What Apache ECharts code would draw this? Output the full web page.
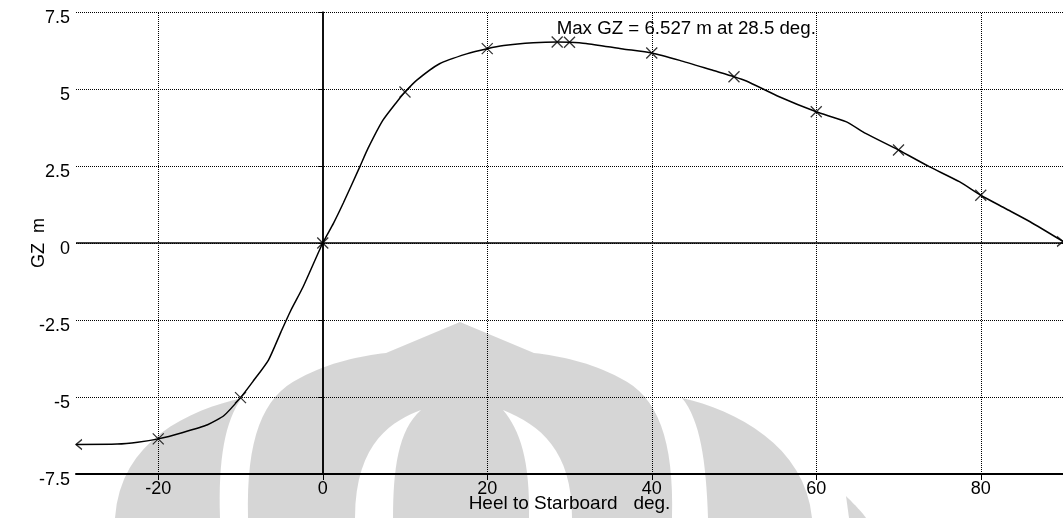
<!DOCTYPE html>
<html>
<head>
<meta charset="utf-8">
<script src="https://cdn.jsdelivr.net/npm/echarts@6/dist/echarts.min.js"></script>
<style>
  html, body { margin: 0; padding: 0; background: #fff; }
  #chart { width: 1063px; height: 518px; }
</style>
</head>
<body>
<div id="chart"></div>
<script>
// GZ curve
const heel = [-30, -25, -22.5, -20, -17, -14, -12, -10, -8.5, -6.6, -5.1, -3.9, -2.4, 0,
  1.3, 2.5, 4.5, 5.5, 7.3, 9, 10, 11.4, 14.2, 17.5, 20, 22, 25.6, 28.5, 30,
  32, 36.5, 40, 43.4, 47.5, 50, 51.5, 55.5, 60, 63.6, 66, 70, 73.8, 77.4, 80, 83, 86, 90];
const gz = [-6.54, -6.53, -6.47, -6.36, -6.15, -5.9, -5.6, -5.02, -4.5, -3.8, -2.9, -2.2, -1.43, 0,
  0.64, 1.3, 2.47, 3.07, 3.98, 4.58, 4.9, 5.28, 5.82, 6.14, 6.31, 6.41, 6.5, 6.527, 6.52,
  6.48, 6.3, 6.17, 5.93, 5.6, 5.4, 5.26, 4.75, 4.26, 3.94, 3.56, 3.02, 2.47, 1.99, 1.55, 1.12, 0.69, 0.05];
const markHeel = [-20, -10, 0, 10, 20, 28.5, 30, 40, 50, 60, 70, 80];
const xTicks = [-20, 0, 20, 40, 60, 80];
const maxGZ = 6.527;
const maxHeel = 28.5;

const font = "'Liberation Sans', Arial, sans-serif";
const shade = 'rgba(0,0,0,0.16)'; // gives #d6d6d6 on white, lets the grid show through
const dots = [1, 1];

let curve = heel.map((h, i) => [h, gz[i]]);
let marks = markHeel.map(h => [h, gz[heel.indexOf(h)]]);

let gridLines = [];
xTicks.forEach(v => {
  gridLines.push({ xAxis: v, lineStyle: v === 0 ? { type: 'solid', width: 1.5 } : {} });
});
gridLines.push({ yAxis: 0, lineStyle: { type: 'solid', width: 1.5 } });

// faint logo in the background (outline in page pixels), the dome has its two notches cut in
const logo = [
  'M248,518 C246,440 262,396 300,378 C330,362 360,356 386,353 L460,322 L534,353 C560,356 590,362 620,378 ' +
  'C658,396 674,440 672,518 L572,518 C572,450 540,425 503,410 C520,430 530,460 529,518 L393,518 ' +
  'C393,470 398,430 421,410 C395,420 355,440 355,518 Z',
  'M242,398 C190,410 120,440 115,518 L220,518 C218,460 225,420 242,398 Z',
  'M682,398 C735,410 805,445 812,518 L708,518 C706,460 700,420 682,398 Z',
  'M846,496 C855,505 862,512 866,518 L849,518 Z'
];

// turn the M/C/L path into polygon points
function toPoints(d) {
  let t = d.replace(/,/g, ' ').match(/[MCLZ]|-?[\d.]+/g);
  let pts = [], cur = [0, 0], i = 0, cmd = '';
  while (i < t.length) {
    if (/[MCLZ]/.test(t[i])) { cmd = t[i++]; if (cmd === 'Z') continue; }
    if (cmd === 'M' || cmd === 'L') {
      cur = [+t[i], +t[i + 1]]; i += 2; pts.push(cur);
    } else if (cmd === 'C') {
      let p1 = [+t[i], +t[i + 1]], p2 = [+t[i + 2], +t[i + 3]], p3 = [+t[i + 4], +t[i + 5]];
      i += 6;
      for (let k = 1; k <= 16; k++) {
        let s = k / 16, u = 1 - s;
        pts.push([
          u * u * u * cur[0] + 3 * u * u * s * p1[0] + 3 * u * s * s * p2[0] + s * s * s * p3[0],
          u * u * u * cur[1] + 3 * u * u * s * p1[1] + 3 * u * s * s * p2[1] + s * s * s * p3[1]
        ]);
      }
      cur = p3;
    } else i++;
  }
  return pts;
}

let graphics = logo.map(p => ({ type: 'polygon', z: -10, silent: true, shape: { points: toPoints(p) }, style: { fill: shade } }));

let chart = echarts.init(document.getElementById('chart'));
chart.setOption({
  animation: false,
  textStyle: { fontFamily: font },
  graphic: graphics,
  grid: { left: 76, right: 0, top: 12, bottom: 43 },
  xAxis: {
    type: 'value', min: -30, max: 90,
    name: 'Heel to Starboard   deg.', nameLocation: 'middle', nameGap: 20, nameMoveOverlap: false,
    nameTextStyle: { color: '#000', fontSize: 19, fontFamily: font },
    axisLine: { onZero: false, lineStyle: { color: '#000', width: 2 } },
    axisTick: { customValues: xTicks, length: 6, lineStyle: { color: '#000' } },
    axisLabel: { customValues: xTicks, color: '#000', fontSize: 18, margin: 6 },
    splitLine: { show: false }
  },
  yAxis: {
    type: 'value', min: -7.5, max: 7.5, interval: 2.5,
    name: 'GZ  m', nameLocation: 'middle', nameGap: 28, nameMoveOverlap: false,
    nameTextStyle: { color: '#000', fontSize: 18, fontFamily: font },
    axisLine: { lineStyle: { color: '#000', width: 1.5 } },
    axisTick: { length: 5, lineStyle: { color: '#000' } },
    axisLabel: { color: '#000', fontSize: 18, margin: 6, verticalAlign: 'top', lineHeight: 13 },
    splitLine: { lineStyle: { color: '#000', type: dots, width: 1 } }
  },
  series: [
    {
      type: 'line', data: curve, showSymbol: false, z: 3, smooth: 0.2,
      lineStyle: { color: '#000', width: 1.5 },
      markLine: {
        silent: true, symbol: 'none', label: { show: false },
        lineStyle: { color: '#000', type: dots, width: 1 },
        data: gridLines
      },
      markPoint: {
        silent: true,
        data: [{ coord: [maxHeel, maxGZ], symbol: 'circle', symbolSize: 1, itemStyle: { color: 'transparent' } }],
        label: {
          show: true, position: [0, -22], color: '#000', fontSize: 18.7, fontFamily: font,
          formatter: 'Max GZ = ' + maxGZ + ' m at ' + maxHeel + ' deg.'
        }
      }
    },
    {
      type: 'scatter', data: marks, z: 4,
      symbol: 'path://M0,0 L10,10 M10,0 L0,10', symbolSize: 11,
      itemStyle: { color: 'transparent', borderColor: '#000', borderWidth: 1.3 }
    },
    {
      type: 'scatter', z: 4,
      data: [
        { value: curve[0], symbol: 'path://M10,0 L0,5 L10,10', symbolOffset: [3, 0] },
        { value: curve[curve.length - 1], symbol: 'path://M0,0 L10,5 L0,10', symbolOffset: [-3, 0] }
      ],
      symbolSize: [6, 10],
      itemStyle: { color: 'transparent', borderColor: '#000', borderWidth: 1.3 }
    }
  ]
});
</script>
</body>
</html>
